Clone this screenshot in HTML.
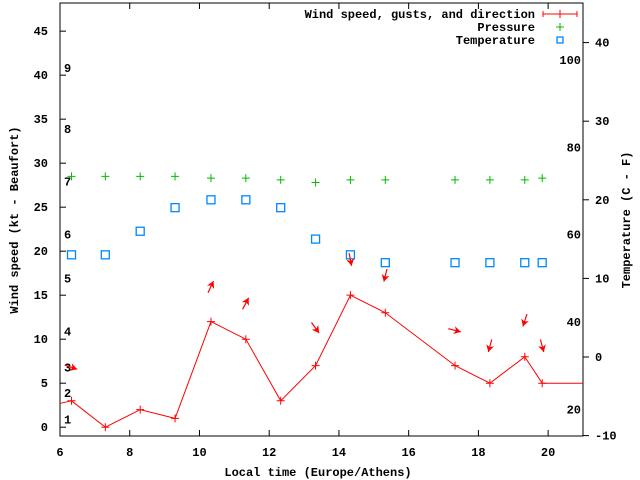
<!DOCTYPE html>
<html><head><meta charset="utf-8"><style>
body{margin:0;background:#fff}
svg{display:block;font-family:"Liberation Mono","DejaVu Sans Mono",monospace;font-size:12px;font-weight:bold}
</style></head><body>
<svg id="c" width="640" height="480" viewBox="0 0 640 480">
<g id="axes"></g><g id="marks"></g>
</svg>
<script>
const times=[6.33,7.3,8.3,9.3,10.33,11.33,12.33,13.33,14.33,15.33,17.33,18.33,19.33,19.83];
const windSpeed=[3,0,2,1,12,10,3,7,15,13,7,5,8,5];
const pressure=[28.5,28.5,28.5,28.5,28.3,28.3,28.1,27.8,28.1,28.1,28.1,28.1,28.1,28.3];
const temperature=[13,13,16,19,20,20,19,15,13,12,12,12,12,12];
const arrowTimes=[6.33,10.33,11.33,13.33,14.33,15.33,17.33,18.33,19.33,19.83];
const gusts=[6.8,16.0,14.1,11.25,19.0,17.2,11.0,9.2,12.1,9.2];
const windDir=[18,-65,-62,54,79,104,14,105,108,75];
const xTicks=[6,8,10,12,14,16,18,20];
const yTicks=[0,5,10,15,20,25,30,35,40,45];
const tTicks=[-10,0,10,20,30,40];
const fLabels=[20,40,60,80,100];
const bftLabels=[[1,0.9],[2,3.9],[3,6.8],[4,10.9],[5,16.9],[6,21.9],[7,27.9],[8,33.9],[9,40.8]];

const L=60,R=583,T=3,B=436;
const x=t=>L+(t-6)/(21-6)*(R-L);
const y=v=>B-(v+1)/(48.2+1)*(B-T);
const yt=c=>357-c*7.86;
const NS='http://www.w3.org/2000/svg';
const ax=document.getElementById('axes'),mk=document.getElementById('marks');
function el(tag,at,p){const e=document.createElementNS(NS,tag);for(const k in at)e.setAttribute(k,at[k]);(p||mk).appendChild(e);return e;}
function txt(s,at,p){const e=el('text',at,p);e.textContent=s;return e;}

let e=el('rect',{x:L,y:T,width:R-L,height:B-T,fill:'none',stroke:'#000','stroke-width':1},ax);

xTicks.forEach(t=>{
 el('line',{x1:x(t),x2:x(t),y1:B,y2:B-6,stroke:'#000'},ax);
 el('line',{x1:x(t),x2:x(t),y1:T,y2:T+6,stroke:'#000'},ax);
 const l=txt(t,{x:x(t),y:B+20,'text-anchor':'middle'},ax);
 
});
yTicks.forEach(v=>{
 el('line',{x1:L,x2:L+6,y1:y(v),y2:y(v),stroke:'#000'},ax);
 const l=txt(v,{x:L-12,y:y(v)+4,'text-anchor':'end'},ax);
 
});
tTicks.forEach(c=>{
 el('line',{x1:R,x2:R+6,y1:yt(c),y2:yt(c),stroke:'#000'},ax);
 const l=txt(c,{x:R+12,y:yt(c)+4},ax);
 
});
fLabels.forEach(f=>{
 const l=txt(f,{x:581,y:yt((f-32)*5/9)+4,'text-anchor':'end'},ax);
 
});
bftLabels.forEach(b=>{
 const l=txt(b[0],{x:64,y:y(b[1])+4},ax);
 
});
let t1=txt('Local time (Europe/Athens)',{x:318,y:476,'text-anchor':'middle'},ax);

let t2=txt('Wind speed (kt - Beaufort)',{x:0,y:0,'text-anchor':'middle',transform:'translate(18,220) rotate(-90)'},ax);

let t3=txt('Temperature (C - F)',{x:0,y:0,'text-anchor':'middle',transform:'translate(630,220) rotate(-90)'},ax);


// legend
const lg=[['Wind speed, gusts, and direction','#f00','wind'],['Pressure','#0b0','pressure'],['Temperature','#08f','temperature']];
lg.forEach((g,i)=>{
 const yy=14+i*13;
 const l=txt(g[0],{x:535,y:yy+4,'text-anchor':'end'},ax);
 
 if(i==0){el('line',{x1:543,x2:577,y1:yy,y2:yy,stroke:g[1]},ax);el('line',{x1:543,x2:543,y1:yy-3,y2:yy+3,stroke:g[1]},ax);el('line',{x1:577,x2:577,y1:yy-3,y2:yy+3,stroke:g[1]},ax);el('path',{d:`M556 ${yy}h8M560 ${yy-4}v8`,stroke:g[1]},ax);}
 else if(i==1)el('path',{d:`M556 ${yy}h8M560 ${yy-4}v8`,stroke:g[1]},ax);
 else el('rect',{x:557,y:yy-3,width:6,height:6,fill:'none',stroke:g[1],'stroke-width':1.3},ax);
});

// wind line
let pts=`${L},${y(2.7)} `+times.map((t,i)=>x(t)+','+y(windSpeed[i])).join(' ')+` ${R},${y(windSpeed[windSpeed.length-1])}`;
let wl=el('polyline',{points:pts,fill:'none',stroke:'#f00','stroke-width':1});

times.forEach((t,i)=>{
 const p=el('path',{d:`M${x(t)-4} ${y(windSpeed[i])}h8M${x(t)} ${y(windSpeed[i])-4}v8`,stroke:'#f00'});
 
 const q=el('path',{d:`M${x(t)-4} ${y(pressure[i])}h8M${x(t)} ${y(pressure[i])-4}v8`,stroke:'#0b0'});
 
 const s=el('rect',{x:x(t)-4,y:yt(temperature[i])-4,width:8,height:8,fill:'none',stroke:'#08f','stroke-width':1.3});
 
});
arrowTimes.forEach((t,i)=>{
 const cx=x(t),cy=y(gusts[i]),a=windDir[i]*Math.PI/180,dx=Math.cos(a),dy=Math.sin(a);
 const hx=cx+dx*6,hy=cy+dy*6,tx=cx-dx*7,ty=cy-dy*7;
 const g=el('g',{});
 
 
 el('line',{x1:tx,y1:ty,x2:hx,y2:hy,stroke:'#f00','stroke-width':1.2},g);
 const px=-dy,py=dx;
 el('polygon',{points:`${hx},${hy} ${hx-dx*7+px*4},${hy-dy*7+py*4} ${hx-dx*5},${hy-dy*5} ${hx-dx*7-px*4},${hy-dy*7-py*4}`,fill:'#f00'},g);
});
</script>
</body></html>
